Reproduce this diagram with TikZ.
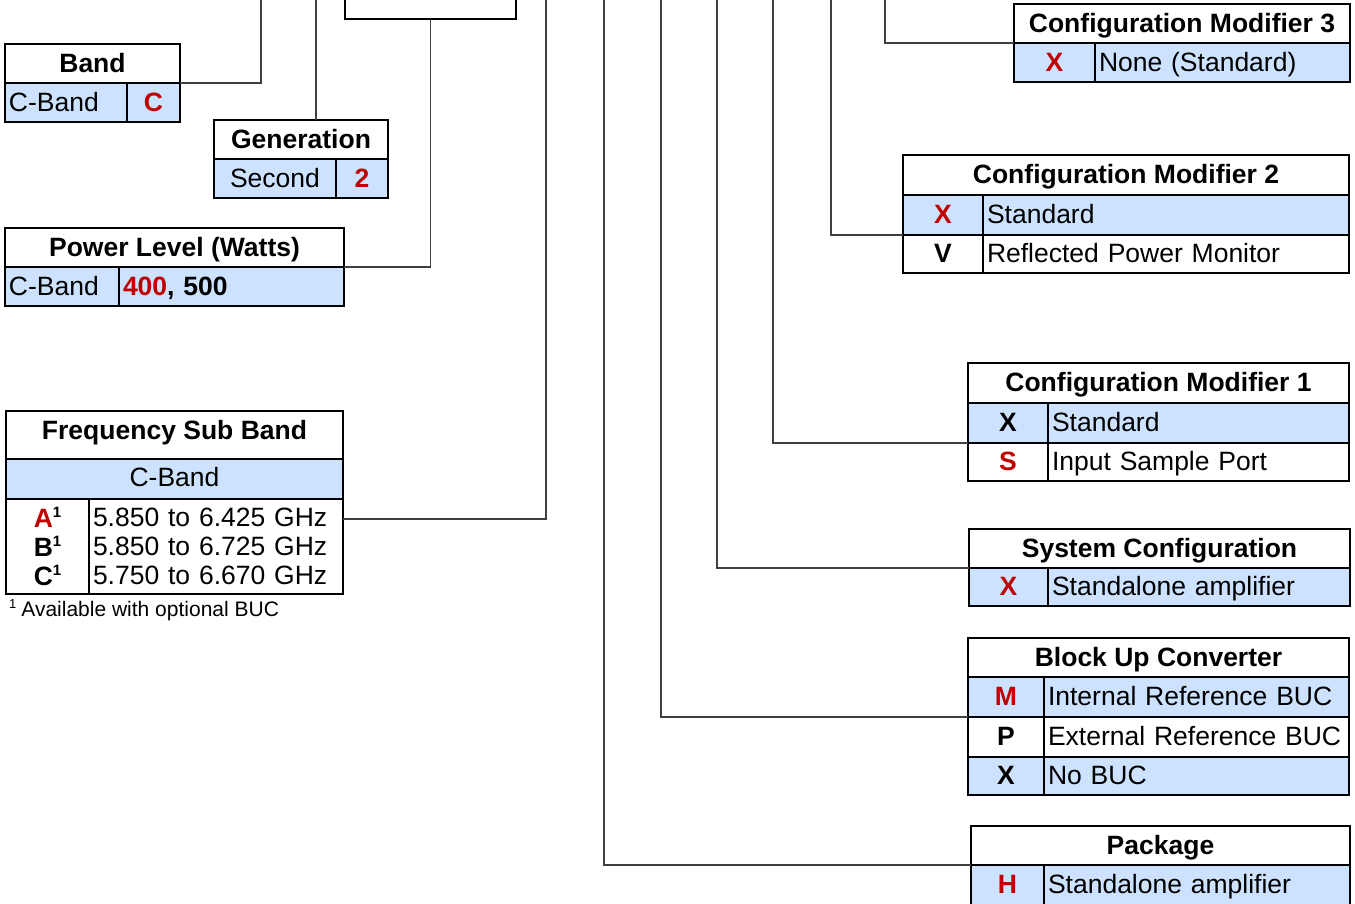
\documentclass[tikz,border=0pt]{standalone}
\usepackage{fontspec}
\setmainfont{Liberation Sans}
\definecolor{cellblue}{RGB}{204,226,255}
\definecolor{codered}{RGB}{192,0,0}
\newcommand{\supone}{\raisebox{10pt}{\fontsize{15}{15}\selectfont\bfseries 1}}
\begin{document}
\begin{tikzpicture}[x=1pt,y=-1pt,
  cell/.style={draw=black, line width=2.2pt, inner sep=0pt, outer sep=0pt, anchor=north west, text height=19pt, text depth=2pt, font=\fontsize{26.5}{30}\selectfont},
  hdr/.style={cell, fill=white, font=\fontsize{26.5}{30}\selectfont\bfseries},
  bluecell/.style={fill=cellblue},
  whitecell/.style={fill=white},
  code/.style={font=\fontsize{26.5}{30}\selectfont\bfseries},
  redcode/.style={code, text=codered},
  lcell/.style={cell, align=left, inner xsep=4pt, text width=#1},
  multi/.style={text height={}, text depth={}},
  conn/.style={draw=black!75, line width=1.3pt}]
\useasboundingbox (0,0) rectangle (1355,903);
\clip (0,0) rectangle (1355,903);

% ---------- left side ----------
\node[cell, fill=white, minimum width=171pt, minimum height=49pt] (topbox) at (345,-30) {};

\node[hdr, minimum width=175pt, minimum height=39pt] (bandh) at (5,44) {Band};
\node[lcell=114pt, bluecell, minimum width=122pt, minimum height=39pt] (bandn) at (5,83) {C-Band};
\node[cell, bluecell, redcode, minimum width=53pt, minimum height=39pt] (bandc) at (127,83) {C};

\node[hdr, minimum width=174pt, minimum height=39pt] (genh) at (214,120) {Generation};
\node[cell, bluecell, minimum width=122pt, minimum height=39pt] (genn) at (214,159) {Second};
\node[cell, bluecell, redcode, minimum width=52pt, minimum height=39pt] (genc) at (336,159) {2};

\node[hdr, minimum width=339pt, minimum height=39pt] (powh) at (5,228) {Power Level (Watts)};
\node[lcell=106pt, bluecell, minimum width=114pt, minimum height=39pt] (pown) at (5,267) {C-Band};
\node[lcell=217pt, bluecell, code, minimum width=225pt, minimum height=39pt] (powv) at (119,267) {\textcolor{codered}{400}, 500};

\node[hdr, text depth=10pt, minimum width=337pt, minimum height=48pt] (freqh) at (6,411) {Frequency Sub Band};
\node[cell, bluecell, text depth=4pt, minimum width=337pt, minimum height=40pt] (freqb) at (6,459) {C-Band};
\node[cell, multi, whitecell, align=center, minimum width=83pt, minimum height=95pt, font=\fontsize{26.5}{29}\selectfont\bfseries] (freql) at (6,499) {\textcolor{codered}{A}\supone\\B\supone\\C\supone};
\node[lcell=246pt, multi, whitecell, minimum width=254pt, minimum height=95pt, font=\fontsize{26.5}{29}\selectfont] (freqr) at (89,499) {5.850 to 6.425 GHz\\5.850 to 6.725 GHz\\5.750 to 6.670 GHz};
\node[anchor=west, inner sep=0pt, font=\fontsize{21}{24}\selectfont] (fnote) at (9,610) {\raisebox{8pt}{\fontsize{13}{13}\selectfont 1}\hspace{5pt}Available with optional BUC};

% ---------- right side ----------
\node[hdr, minimum width=336pt, minimum height=39pt] (cm3h) at (1014,4) {Configuration Modifier 3};
\node[cell, bluecell, redcode, minimum width=81pt, minimum height=39pt] (cm3c) at (1014,43) {X};
\node[lcell=247pt, bluecell, minimum width=255pt, minimum height=39pt] (cm3t) at (1095,43) {None (Standard)};

\node[hdr, minimum width=446pt, minimum height=40pt] (cm2h) at (903,155) {Configuration Modifier 2};
\node[cell, bluecell, redcode, minimum width=80pt, minimum height=40pt] (cm2c1) at (903,195) {X};
\node[lcell=358pt, bluecell, minimum width=366pt, minimum height=40pt] (cm2t1) at (983,195) {Standard};
\node[cell, whitecell, code, minimum width=80pt, minimum height=38pt] (cm2c2) at (903,235) {V};
\node[lcell=358pt, whitecell, minimum width=366pt, minimum height=38pt] (cm2t2) at (983,235) {Reflected Power Monitor};

\node[hdr, minimum width=381pt, minimum height=40pt] (cm1h) at (968,363) {Configuration Modifier 1};
\node[cell, bluecell, code, minimum width=80pt, minimum height=40pt] (cm1c1) at (968,403) {X};
\node[lcell=293pt, bluecell, minimum width=301pt, minimum height=40pt] (cm1t1) at (1048,403) {Standard};
\node[cell, whitecell, redcode, minimum width=80pt, minimum height=38pt] (cm1c2) at (968,443) {S};
\node[lcell=293pt, whitecell, minimum width=301pt, minimum height=38pt] (cm1t2) at (1048,443) {Input Sample Port};

\node[hdr, minimum width=381pt, minimum height=39pt] (sysh) at (969,529) {System Configuration};
\node[cell, bluecell, redcode, minimum width=79pt, minimum height=38pt] (sysc) at (969,568) {X};
\node[lcell=294pt, bluecell, minimum width=302pt, minimum height=38pt] (syst) at (1048,568) {Standalone amplifier};

\node[hdr, minimum width=381pt, minimum height=39pt] (buch) at (968,638) {Block Up Converter};
\node[cell, bluecell, redcode, minimum width=76pt, minimum height=40pt] (bucc1) at (968,677) {M};
\node[lcell=297pt, bluecell, minimum width=305pt, minimum height=40pt] (buct1) at (1044,677) {Internal Reference BUC};
\node[cell, whitecell, code, minimum width=76pt, minimum height=40pt] (bucc2) at (968,717) {P};
\node[lcell=297pt, whitecell, minimum width=305pt, minimum height=40pt] (buct2) at (1044,717) {External Reference BUC};
\node[cell, bluecell, code, minimum width=76pt, minimum height=38pt] (bucc3) at (968,757) {X};
\node[lcell=297pt, bluecell, minimum width=305pt, minimum height=38pt] (buct3) at (1044,757) {No BUC};

\node[hdr, minimum width=379pt, minimum height=39pt] (pkgh) at (971,826) {Package};
\node[cell, bluecell, redcode, minimum width=73pt, minimum height=40pt] (pkgc) at (971,865) {H};
\node[lcell=298pt, bluecell, minimum width=306pt, minimum height=40pt] (pkgt) at (1044,865) {Standalone amplifier};

% ---------- connectors ----------
\coordinate (tBand) at (261,-2);
\coordinate (tGen) at (316,-2);
\coordinate (tFreq) at (546,-2);
\coordinate (tPkg) at (604,-2);
\coordinate (tBuc) at (661,-2);
\coordinate (tSys) at (717,-2);
\coordinate (tCmA) at (773,-2);
\coordinate (tCmB) at (831,-2);
\coordinate (tCmC) at (885,-2);

\draw[conn] (tBand) |- (bandh.south east);
\draw[conn] (tGen) -- (tGen |- genh.north);
\draw[conn] (topbox.south) |- (powh.south east);
\draw[conn] (tFreq) |- ([yshift=-20pt]freqr.north east);
\draw[conn] (tPkg) |- (pkgh.south west);
\draw[conn] (tBuc) |- (bucc1.south west);
\draw[conn] (tSys) |- (sysh.south west);
\draw[conn] (tCmA) |- (cm1c1.south west);
\draw[conn] (tCmB) |- (cm2c1.south west);
\draw[conn] (tCmC) |- (cm3h.south west);
\end{tikzpicture}
\end{document}
